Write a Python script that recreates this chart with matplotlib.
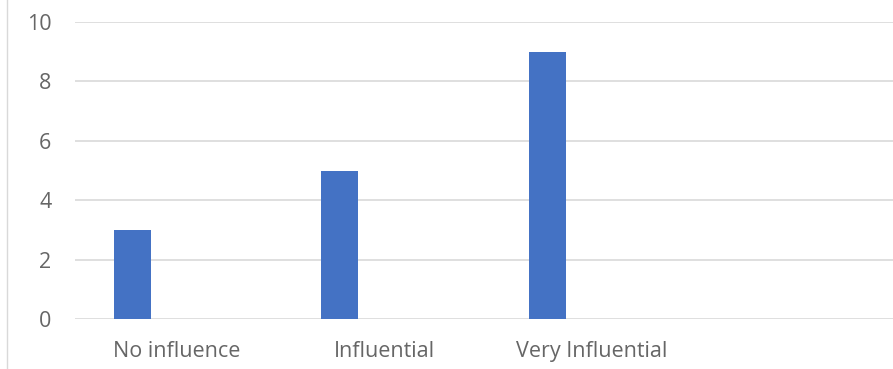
import matplotlib
matplotlib.use("Agg")
import matplotlib.pyplot as plt
from matplotlib.lines import Line2D

categories = ["No influence", "Influential", "Very Influential"]
values = [3, 5, 9]
yticks = [0, 2, 4, 6, 8, 10]

W, H = 893, 369
fig = plt.figure(figsize=(W / 100, H / 100), dpi=100)
ax = fig.add_axes([75 / W, (H - 319) / H, 1 - 75 / W, (319 - 22) / H])

x = list(range(len(categories)))
ax.bar([i - 0.214 for i in x], values, width=0.178, color="#4472C4", zorder=3)

ax.set_xlim(-0.49, (W - 177) / 207.5)
ax.set_ylim(0, 10)
ax.set_yticks(yticks)
ax.set_xticks(x)
ax.set_xticklabels(categories)
ax.yaxis.grid(True, color="#D9D9D9", linewidth=1.2, zorder=0)
for s in ax.spines.values():
    s.set_visible(False)
ax.tick_params(axis="both", length=0, labelsize=15.5, labelcolor="#666666")
for lab in ax.get_xticklabels() + ax.get_yticklabels():
    lab.set_fontfamily("Open Sans")
ax.tick_params(axis="x", pad=16)
ax.tick_params(axis="y", pad=17)

fig.add_artist(Line2D([7 / W, 7 / W], [0, 1], transform=fig.transFigure, color="#D9D9D9", linewidth=1))

fig.savefig("out.png", dpi=100)
